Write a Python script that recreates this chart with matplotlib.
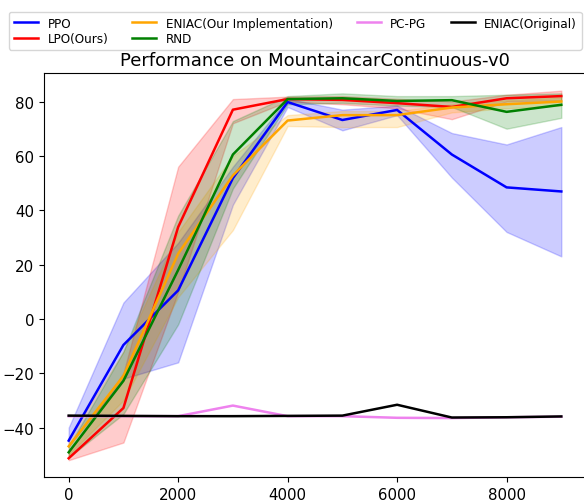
import numpy as np
import matplotlib
matplotlib.use("Agg")
import matplotlib.pyplot as plt

# Training steps
steps = [0, 1000, 2000, 3000, 4000, 5000, 6000, 7000, 8000, 9000]

# PPO
ppo_mean = [-44.8, -9.6, 10.5, 51.8, 79.8, 73.2, 76.9, 60.5, 48.4, 46.9]
ppo_low = [-47.0, -22.0, -16.0, 42.0, 78.0, 69.4, 75.0, 52.0, 32.0, 23.0]
ppo_high = [-40.0, 6.0, 28.0, 56.0, 81.0, 77.0, 78.5, 68.4, 64.2, 70.6]

# LPO (ours)
lpo_mean = [-51.3, -32.8, 33.8, 77.0, 80.9, 80.6, 79.4, 78.0, 81.2, 82.0]
lpo_low = [-52.0, -45.5, 10.0, 72.0, 80.0, 79.0, 77.5, 73.5, 80.0, 80.5]
lpo_high = [-49.0, -20.0, 56.0, 80.9, 81.8, 82.0, 81.0, 80.0, 82.5, 84.0]

# ENIAC (our implementation)
eniac_mean = [-46.9, -21.0, 24.0, 52.8, 73.0, 75.0, 75.0, 77.8, 79.0, 80.0]
eniac_low = [-50.0, -30.0, 8.0, 32.7, 71.0, 70.6, 70.6, 76.0, 77.5, 78.5]
eniac_high = [-44.0, -12.0, 32.0, 60.0, 75.0, 76.5, 76.5, 79.0, 80.5, 81.5]

# RND
rnd_mean = [-49.1, -22.8, 18.0, 60.5, 80.9, 81.2, 80.2, 80.5, 76.2, 78.8]
rnd_low = [-51.0, -35.0, -2.0, 48.0, 79.0, 79.5, 78.5, 78.0, 70.0, 74.0]
rnd_high = [-47.0, -12.0, 38.0, 72.8, 82.0, 83.0, 82.0, 82.0, 82.5, 83.0]

# PC-PG and ENIAC (original), no spread shown
pcpg_mean = [-35.8, -35.8, -35.8, -31.9, -35.8, -35.8, -36.4, -36.5, -36.2, -36.0]
eniac_orig_mean = [-35.6, -35.7, -35.8, -35.8, -35.7, -35.6, -31.6, -36.3, -36.2, -35.9]

fig = plt.figure(figsize=(5.84, 5.02), dpi=100)
ax = fig.add_axes([44 / 584, 0.0472, 0.928, 0.8054])

bands = [
    ("PPO", ppo_mean, ppo_low, ppo_high, "blue"),
    ("LPO(Ours)", lpo_mean, lpo_low, lpo_high, "red"),
    ("ENIAC(Our Implementation)", eniac_mean, eniac_low, eniac_high, "orange"),
    ("RND", rnd_mean, rnd_low, rnd_high, "green"),
]

for label, mean, low, high, color in bands:
    ax.plot(steps, mean, color=color, lw=1.8, label=label)
    ax.fill_between(steps, low, high, color=color, alpha=0.2)

ax.plot(steps, pcpg_mean, color="violet", lw=1.8, label="PC-PG")
ax.plot(steps, eniac_orig_mean, color="black", lw=1.8, label="ENIAC(Original)")

ax.set_xlim(-451, 9450)
ax.set_ylim(-58.3, 90.5)
ax.set_xticks([0, 2000, 4000, 6000, 8000])
ax.set_yticks([-40, -20, 0, 20, 40, 60, 80])
ax.tick_params(labelsize=10.8)
ax.set_title("Performance on MountaincarContinuous-v0", fontsize=13)

handles, labels = ax.get_legend_handles_labels()
fig.legend(handles, labels, loc="upper left", bbox_to_anchor=(9 / 584, 1 - 12.7 / 502),
           ncol=4, fontsize=8.64, borderaxespad=0.0, labelspacing=0.2)

fig.savefig("out.png", dpi=100)
